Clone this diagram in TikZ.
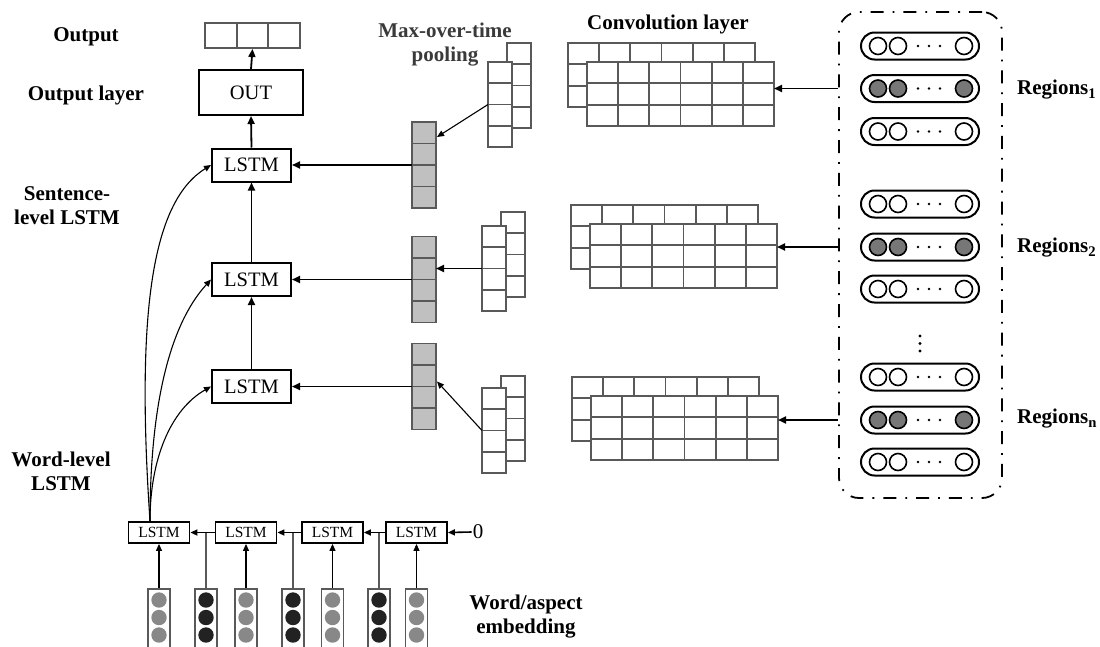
\documentclass[tikz,border=0pt]{standalone}
\usepackage{fontspec}
\setmainfont{Liberation Serif}
\usetikzlibrary{arrows.meta,calc}
\definecolor{gline}{HTML}{595959}
\definecolor{poolf}{HTML}{C0C0C0}
\definecolor{dotg}{HTML}{888888}
\definecolor{dotk}{HTML}{222222}
\definecolor{regf}{HTML}{777777}
\definecolor{mxtxt}{HTML}{3A3A3A}
\newcommand\convgrid[3]{%
  \foreach \i in {0,...,5}{\foreach \j in {0,1,2}{\draw[cell] ({#1+\i*31.17},{#2+\j*21.33}) rectangle ++(31.17,21.33);}}
  \node[front, minimum width=187, minimum height=64, anchor=north west] (#3) at ({#1+19},{#2+19}) {};
  \foreach \i in {1,...,5}{\draw[cell] ({#1+19+\i*31.17},{#2+19}) -- ++(0,64);}
  \foreach \j in {1,2}{\draw[cell] ({#1+19},{#2+19+\j*21.33}) -- ++(187,0);}
}
\newcommand\poolstack[5]{%
  \foreach \j in {0,...,3}{\draw[cell] (#1,{#2+\j*21.25}) rectangle ++(24,21.25);}
  \node[front, minimum width=24, minimum height=85, anchor=north west] (#5) at (#3,#4) {};
  \foreach \j in {1,2,3}{\draw[cell] (#3,{#4+\j*21.25}) -- ++(24,0);}
}
\newcommand\pooledvec[3]{%
  \node[pvec] (#3) at (#1,#2) {};
  \foreach \j in {1,2,3}{\draw[pline] ($(#3.north west)+(0,\j*21.5)$) -- ++(24,0);}
}
\newcommand\regpill[4]{%
  \node[pill] (#3) at (#1,#2) {};
  \draw[circ, fill=#4] ($(#3)+(-42,0)$) circle[radius=8.5pt];
  \draw[circ, fill=#4] ($(#3)+(-22,0)$) circle[radius=8.5pt];
  \draw[circ, fill=#4] ($(#3)+(44,0)$) circle[radius=8.5pt];
  \foreach \dx in {-2,9,20}{\fill ($(#3)+(\dx,0)$) circle[radius=1.4pt];}
}
\newcommand\embcol[3]{%
  \node[embbox, anchor=north] (#2) at (#1,588) {};
  \foreach \yy in {600,617.5,635}{\fill[#3] (#1,\yy) circle[radius=7.7pt];}
}
\begin{document}
\begin{tikzpicture}[x=1pt,y=-1pt,
  lbl/.style={font=\bfseries\fontsize{21}{24}\selectfont, align=center, inner sep=0},
  sbox/.style={draw, line width=2, fill=white, minimum width=79, minimum height=33, inner sep=0, font=\fontsize{20.5}{22}\selectfont},
  wbox/.style={draw, line width=1.8, fill=white, minimum width=61, minimum height=21, inner sep=0, font=\fontsize{15.5}{17}\selectfont},
  arr/.style={-{Triangle[length=8pt,width=7pt]}, line width=1.8},
  tarr/.style={-{Triangle[length=7pt,width=6pt]}, line width=1.1},
  cell/.style={draw=gline, line width=1.9, fill=white},
  front/.style={draw=gline, line width=1.9, fill=white, inner sep=0, outer sep=0},
  pvec/.style={draw=gline, line width=1.9, fill=poolf, minimum width=24, minimum height=86, inner sep=0, outer sep=0},
  pline/.style={draw=gline, line width=1.9},
  pill/.style={draw, line width=2, rounded corners=13.5, minimum width=118, minimum height=27, inner sep=0},
  circ/.style={draw, line width=1.6},
  embbox/.style={draw=gline, line width=1.9, minimum width=22, minimum height=70, inner sep=0},
  regbox/.style={draw, line width=1.8, rounded corners=20, minimum width=163, minimum height=486, inner sep=0, dash pattern=on 13pt off 9pt on 1.8pt off 9pt},
  ocell/.style={draw=gline, line width=1.9, minimum width=31.7, minimum height=25, inner sep=0}
]
\useasboundingbox (0,0) rectangle (1100,646);
\begin{scope}
\clip (0,0) rectangle (1100,646);

% left labels
\node[lbl] (lout) at (86,37) {Output};
\node[lbl] (llay) at (86,95) {Output layer};
\node[lbl] (lsent) at (67,206) {Sentence-\\level LSTM};
\node[lbl] (lword) at (61,471) {Word-level\\LSTM};
\node[lbl] (lemb) at (526,617) {Word/aspect\\embedding};
\node[lbl, text=mxtxt] (lmax) at (445,45) {Max-over-time\\pooling};
\node[lbl] (lconv) at (668,24) {Convolution layer};

% output cells
\node[ocell] (o1) at (220.8,35.5) {};
\node[ocell] (o2) at (252.5,35.5) {};
\node[ocell] (o3) at (284.2,35.5) {};

% output layer and sentence-level LSTM
\node[sbox, minimum width=104, minimum height=45] (out) at (251,92.5) {OUT};
\node[sbox] (s1) at (251.5,165) {LSTM};
\node[sbox] (s2) at (251.5,279.5) {LSTM};
\node[sbox] (s3) at (251.5,386.5) {LSTM};
\draw[arr] (out.north) -- (o2.south);
\draw[arr] (s1.north) -- (out.south);
\draw[arr] (s2.north) -- (s1.south);
\draw[arr] (s3.north) -- (s2.south);

% convolution grids
\convgrid{568}{43}{g1}
\convgrid{571}{205}{g2}
\convgrid{572}{377}{g3}

% pooling stacks
\poolstack{507}{43}{488}{62}{f1}
\poolstack{501}{212}{482}{226}{f2}
\poolstack{501}{376}{482}{388}{f3}

% pooled vectors
\pooledvec{424}{165}{pv1}
\pooledvec{424}{279.5}{pv2}
\pooledvec{424}{386.5}{pv3}

\draw[arr] (pv1.west) -- (s1.east);
\draw[arr] (pv2.west) -- (s2.east);
\draw[arr] (pv3.west) -- (s3.east);

\coordinate (t1) at ($(pv1.north east)+(1,15)$);
\coordinate (t3) at ($(pv3.north east)+(1,38)$);
\draw[tarr] (f1.west) -- (t1);
\draw[arr] (f2.west) -- (pv2.east |- f2.west);
\draw[tarr] (f3.west) -- (t3);

% regions
\node[regbox] (R) at (920.5,255) {};
\regpill{920}{46}{p1a}{white}
\regpill{920}{88.5}{p1b}{regf}
\regpill{920}{131.5}{p1c}{white}
\regpill{920}{204}{p2a}{white}
\regpill{920}{247}{p2b}{regf}
\regpill{920}{289}{p2c}{white}
\regpill{920}{377}{p3a}{white}
\regpill{920}{420}{p3b}{regf}
\regpill{920}{462}{p3c}{white}
\foreach \yy in {336,343.5,351}{\fill (920,\yy) circle[radius=1.7pt];}

\draw[arr] (R.west |- p1b) -- (g1.east |- p1b);
\draw[arr] (R.west |- p2b) -- (g2.east |- p2b);
\draw[arr] (R.west |- p3b) -- (g3.east |- p3b);

\node[lbl, anchor=west] (r1) at (1017,90) {Regions\textsubscript{1}};
\node[lbl, anchor=west] (r2) at (1017,248) {Regions\textsubscript{2}};
\node[lbl, anchor=west] (r3) at (1017,419) {Regions\textsubscript{n}};

% word-level LSTM
\node[wbox] (w1) at (159,532.5) {LSTM};
\node[wbox] (w2) at (246,532.5) {LSTM};
\node[wbox] (w3) at (332.5,532.5) {LSTM};
\node[wbox] (w4) at (416.5,532.5) {LSTM};
\node[font=\fontsize{21}{22}\selectfont, inner sep=1] (zero) at (478,532) {0};
\draw[tarr, line width=1.6] (zero.west) -- (w4.east);
\draw[tarr, line width=1.6] (w4.west) -- (w3.east);
\draw[tarr, line width=1.6] (w3.west) -- (w2.east);
\draw[tarr, line width=1.6] (w2.west) -- (w1.east);

% embeddings
\embcol{159}{e1}{dotg}
\embcol{206}{b1}{dotk}
\embcol{246}{e2}{dotg}
\embcol{293}{b2}{dotk}
\embcol{332.5}{e3}{dotg}
\embcol{379}{b3}{dotk}
\embcol{416.5}{e4}{dotg}

\draw[tarr] (e1.north) -- (w1.south);
\draw[tarr] (e2.north) -- (w2.south);
\draw[tarr] (e3.north) -- (w3.south);
\draw[tarr] (e4.north) -- (w4.south);
\draw[gline, line width=1.4] (b1.north) -- (b1.north |- w1.east);
\draw[gline, line width=1.4] (b2.north) -- (b2.north |- w1.east);
\draw[gline, line width=1.4] (b3.north) -- (b3.north |- w1.east);

% curves from word-level to sentence-level
\coordinate (ws) at ($(w1.north)+(-9,0)$);
\draw[tarr] (ws) .. controls (135,300) and (155,200) .. (s1.west);
\draw[tarr] (ws) .. controls (150,420) and (165,330) .. (s2.west);
\draw[tarr] (ws) .. controls (150,460) and (170,410) .. (s3.west);
\end{scope}
\end{tikzpicture}
\end{document}
